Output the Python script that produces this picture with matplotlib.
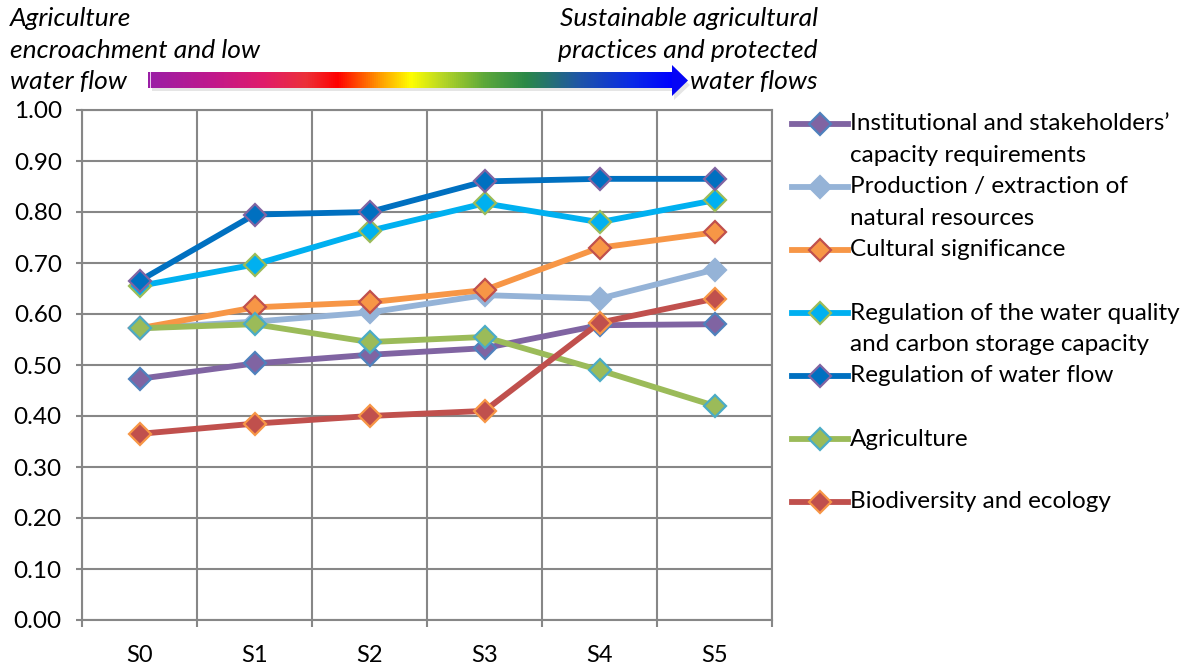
import numpy as np
import matplotlib
matplotlib.use('Agg')
import matplotlib.pyplot as plt
from matplotlib.colors import LinearSegmentedColormap
from matplotlib.lines import Line2D
from matplotlib.patches import Polygon, Rectangle

plt.rcParams['font.family'] = ['Lato', 'DejaVu Sans']

scenarios = ['S0', 'S1', 'S2', 'S3', 'S4', 'S5']

institutional = [0.473, 0.503, 0.520, 0.533, 0.578, 0.580]
production = [0.572, 0.585, 0.603, 0.637, 0.630, 0.687]
cultural = [0.572, 0.613, 0.623, 0.647, 0.730, 0.760]
water_quality = [0.655, 0.697, 0.763, 0.817, 0.780, 0.823]
water_flow = [0.665, 0.795, 0.800, 0.860, 0.865, 0.865]
agriculture = [0.572, 0.580, 0.545, 0.555, 0.490, 0.420]
biodiversity = [0.365, 0.385, 0.400, 0.410, 0.583, 0.630]

labels = [
    "Institutional and stakeholders\u2019\ncapacity requirements",
    "Production / extraction of\nnatural resources",
    "Cultural significance",
    "Regulation of the water quality\nand carbon storage capacity",
    "Regulation of water flow",
    "Agriculture",
    "Biodiversity and ecology",
]
left_note = ["Agriculture", "encroachment and low", "water flow"]
right_note = ["Sustainable agricultural", "practices and protected", "water flows"]

# (values, line/face colour, marker edge colour)
series = [
    (institutional, '#8064A2', '#4F81BD'),
    (production, '#95B3D7', '#95B3D7'),
    (cultural, '#F79646', '#C0504D'),
    (water_quality, '#00B0F0', '#9BBB59'),
    (water_flow, '#0070C0', '#8064A2'),
    (agriculture, '#9BBB59', '#4BACC6'),
    (biodiversity, '#C0504D', '#F79646'),
]

W, H = 1194, 668
GRAY = '#878787'
FS = 17.5


def fx(px):
    return px / W


def fy(py):
    return 1 - py / H


fig = plt.figure(figsize=(W / 100, H / 100), dpi=100)
ax = fig.add_axes([fx(82), fy(620), (772 - 82) / W, (620 - 110) / H])

x = np.arange(len(scenarios))
for vals, col, edge in series:
    ax.plot(x, vals, color=col, lw=4.2, marker='D', ms=11.5,
            mfc=col, mec=edge, mew=1.6, zorder=3)

ax.set_xlim(-0.5, len(scenarios) - 0.5)
ax.set_ylim(0, 1)
yt = np.round(np.arange(0, 1.01, 0.1), 2)
ax.set_yticks(yt)
ax.set_yticklabels([f'{v:.2f}' for v in yt], fontsize=FS)
ax.set_xticks(x)
ax.set_xticklabels(scenarios, fontsize=FS - 0.5)
ax.set_xticks(np.arange(-0.5, len(scenarios), 1), minor=True)
ax.tick_params(axis='x', which='major', length=0, pad=18)
ax.tick_params(axis='x', which='minor', length=5, width=1.5, color=GRAY)
ax.tick_params(axis='y', length=4.5, width=1.5, color=GRAY, pad=10)
ax.grid(axis='y', which='major', color=GRAY, lw=1.5, zorder=1)
ax.grid(axis='x', which='minor', color=GRAY, lw=1.5, zorder=1)
ax.set_axisbelow(True)
for sp in ax.spines.values():
    sp.set_color(GRAY)
    sp.set_linewidth(1.5)

# legend, one slot per series, marker on the first text line
for i, ((vals, col, edge), lab) in enumerate(zip(series, labels)):
    yc = 124 + 63 * i
    fig.add_artist(Line2D([fx(792), fx(848)], [fy(yc)] * 2, color=col, lw=4.2,
                          transform=fig.transFigure))
    fig.add_artist(Line2D([fx(820)], [fy(yc)], marker='D', ms=11.5, mfc=col,
                          mec=edge, mew=1.6, transform=fig.transFigure))
    for j, line in enumerate(lab.split('\n')):
        fig.text(fx(850), fy(yc + 31.5 * j), line, fontsize=FS, va='center', ha='left')

# italic captions either side of the arrow
for j, line in enumerate(left_note):
    fig.text(fx(10), fy(18 + 32 * j), line, fontsize=19, style='italic', va='center', ha='left')
for j, line in enumerate(right_note):
    fig.text(fx(818), fy(18 + 32 * j), line, fontsize=19, style='italic', va='center', ha='right')

# gradient arrow
arr = fig.add_axes([fx(140), fy(104), (700 - 140) / W, (104 - 60) / H])
arr.set_xlim(140, 700)
arr.set_ylim(104, 60)
arr.axis('off')
stops = [(0.0, '#9A1FA6'), (0.12, '#C0188C'), (0.22, '#E01C6A'), (0.30, '#EC3038'),
         (0.36, '#FF0000'), (0.44, '#FF9A00'), (0.50, '#FFFF00'), (0.56, '#B6D626'),
         (0.64, '#5CA83A'), (0.72, '#2A8848'), (0.82, '#1F56A6'), (0.92, '#0A2AE6'),
         (1.0, '#0000FF')]
cmap = LinearSegmentedColormap.from_list('arrow', stops)
arr.add_patch(Rectangle((152, 77), 524, 14, color='#000000', alpha=0.10, lw=0))
arr.add_patch(Polygon([(674, 70), (690, 85), (674, 100)], color='#000000', alpha=0.10, lw=0))
arr.imshow(np.linspace(0, 1, 512)[None, :], cmap=cmap, aspect='auto',
           extent=(148, 673, 88, 72), zorder=2)
arr.add_patch(Rectangle((149.5, 72), 1.5, 16, color='#E8C8EC', lw=0, zorder=3))
arr.add_patch(Polygon([(672, 65), (688, 80.5), (672, 96)], color='#0505F5', lw=0, zorder=3))

fig.savefig('out.png', dpi=100)
